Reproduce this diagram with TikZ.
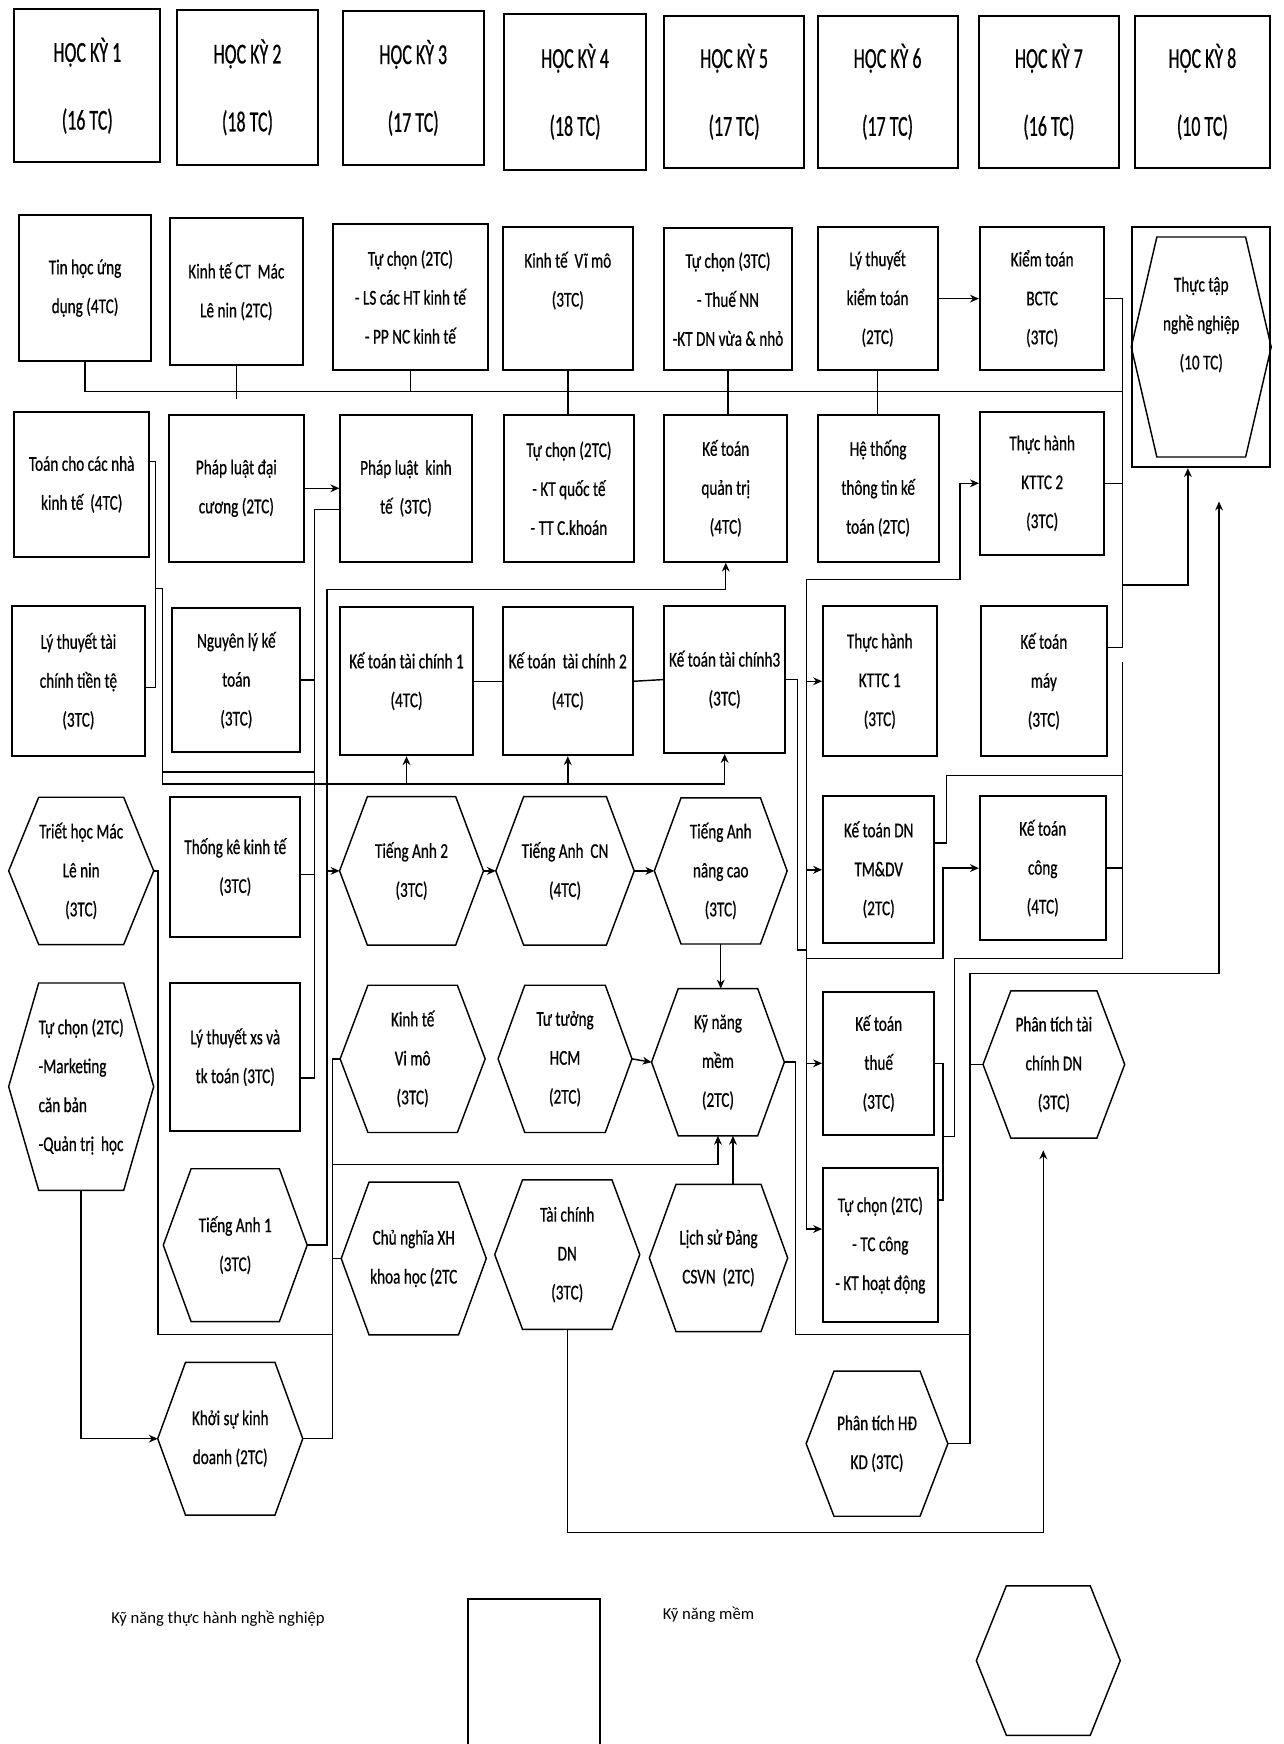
\documentclass[tikz,border=0pt]{standalone}
\usepackage{fontspec}
\setmainfont{Carlito}
\newfontfamily\cfont[FakeStretch=0.72,FakeBold=0.6]{Carlito}
\newfontfamily\hfont[FakeStretch=0.62,FakeBold=0.6]{Carlito}
\newcommand\mybody{\cfont\fontsize{19}{35}\selectfont}
\newcommand\myhdr{\hfont\fontsize{26}{61}\selectfont}
\newcommand\mylegend{\fontsize{15}{18}\selectfont}
\usetikzlibrary{arrows.meta}
\begin{document}
\begin{tikzpicture}[x=1pt,y=-1pt,
  box/.style={draw, line width=1.8pt, inner sep=0pt, align=center, font=\mybody},
  hexn/.style={inner sep=0pt, align=center, font=\mybody},
  hdr/.style={draw, line width=1.8pt, inner sep=0pt, align=center, font=\myhdr},
  conn/.style={line width=1.3pt},
  arr/.style={conn, -{Stealth[length=8pt,width=7pt]}},
  hexline/.style={line width=1.3pt, line join=miter}]
\fill[white] (0,0) rectangle (1154,1568);
\useasboundingbox (0,0) rectangle (1154,1568);

% semester headers
\node[hdr, minimum width=131pt, minimum height=137pt] (hk1) at (78.5,77) {HỌC KỲ 1\\(16 TC)};
\node[hdr, minimum width=127pt, minimum height=139pt] (hk2) at (222.5,78.5) {HỌC KỲ 2\\(18 TC)};
\node[hdr, minimum width=127pt, minimum height=138pt] (hk3) at (371.5,79) {HỌC KỲ 3\\(17 TC)};
\node[hdr, minimum width=128pt, minimum height=140pt] (hk4) at (517,82.5) {HỌC KỲ 4\\(18 TC)};
\node[hdr, minimum width=126pt, minimum height=137pt] (hk5) at (660,82.5) {HỌC KỲ 5\\(17 TC)};
\node[hdr, minimum width=126pt, minimum height=137pt] (hk6) at (798,82.5) {HỌC KỲ 6\\(17 TC)};
\node[hdr, minimum width=126pt, minimum height=137pt] (hk7) at (943,82.5) {HỌC KỲ 7\\(16 TC)};
\node[hdr, minimum width=122pt, minimum height=137pt] (hk8) at (1081,82.5) {HỌC KỲ 8\\(10 TC)};

% row 1
\node[box, minimum width=119pt, minimum height=132pt] (tin) at (76.5,259) {Tin học ứng\\dụng (4TC)};
\node[box, minimum width=119pt, minimum height=132pt] (ktct) at (212.5,262) {Kinh tế CT\ \ Mác\\Lê nin (2TC)};
\node[box, minimum width=140pt, minimum height=132pt] (tc2a) at (369,267) {Tự chọn (2TC)\\- LS các HT kinh tế\\- PP NC kinh tế};
\node[box, minimum width=117pt, minimum height=129pt] (ktvm) at (510.5,268.5) {Kinh tế\ \ Vĩ mô\\(3TC)\\ };
\node[box, minimum width=115pt, minimum height=128pt] (tc3) at (654.5,269) {Tự chọn (3TC)\\- Thuế NN\\-KT DN vừa \& nhỏ};
\node[box, minimum width=108pt, minimum height=129pt] (ltkt) at (789,268.5) {Lý thuyết\\kiểm toán\\(2TC)};
\node[box, minimum width=112pt, minimum height=129pt] (ktbctc) at (937,268.5) {Kiểm toán\\BCTC\\(3TC)};
\node[box, minimum width=124pt, minimum height=216pt] (tt) at (1080,312) {Thực tập\\nghề nghiệp\\(10 TC)\\[8pt]};

% row 2
\node[box, minimum width=121pt, minimum height=131pt] (toan) at (73.5,435.5) {Toán cho các nhà\\kinh tế\ \ (4TC)};
\node[box, minimum width=121pt, minimum height=132pt] (pldc) at (212.5,439) {Pháp luật đại\\cương (2TC)};
\node[box, minimum width=118pt, minimum height=132pt] (plkt) at (365,439) {Pháp luật\ \ kinh\\tế\ \ (3TC)};
\node[box, minimum width=117pt, minimum height=132pt] (tc2b) at (511.5,439) {Tự chọn (2TC)\\- KT quốc tế\\- TT C.khoán};
\node[box, minimum width=111pt, minimum height=132pt] (ktqt) at (652.5,439) {Kế toán\\quản trị\\(4TC)};
\node[box, minimum width=109pt, minimum height=132pt] (httt) at (789.5,439) {Hệ thống\\thông tin kế\\toán (2TC)};
\node[box, minimum width=112pt, minimum height=129pt] (th2) at (937,434.5) {Thực hành\\KTTC 2\\(3TC)};

% row 3
\node[box, minimum width=119pt, minimum height=135pt] (lttc) at (70.5,612.5) {Lý thuyết tài\\chính tiền tệ\\(3TC)};
\node[box, minimum width=115pt, minimum height=129pt] (nlkt) at (212.5,611.5) {Nguyên lý kế\\toán\\(3TC)};
\node[box, minimum width=119pt, minimum height=133pt] (kttc1) at (365.5,612.5) {Kế toán tài chính 1\\(4TC)};
\node[box, minimum width=117pt, minimum height=133pt] (kttc2) at (510.5,612.5) {Kế toán\ \ tài chính 2\\(4TC)};
\node[box, minimum width=109pt, minimum height=132pt] (kttc3) at (651.5,611) {Kế toán tài chính3\\(3TC)};
\node[box, minimum width=102pt, minimum height=135pt] (thkt1) at (791,612.5) {Thực hành\\KTTC 1\\(3TC)};
\node[box, minimum width=113pt, minimum height=135pt] (ktmay) at (938.5,612.5) {Kế toán\\máy\\(3TC)};

% row 4
\node[hexn, minimum width=130pt, minimum height=132pt] (th) at (73,783) {Triết học Mác\\Lê nin\\(3TC)};
\node[box, minimum width=117pt, minimum height=125pt] (tk) at (211.5,779.5) {Thống kê kinh tế\\(3TC)};
\node[hexn, minimum width=129pt, minimum height=133pt] (tea2) at (370,783) {Tiếng Anh 2\\(3TC)};
\node[hexn, minimum width=124pt, minimum height=133pt] (teacn) at (508,783) {Tiếng Anh\ \ CN\\(4TC)};
\node[hexn, minimum width=119pt, minimum height=131pt] (teanc) at (648,783) {Tiếng Anh\\nâng cao\\(3TC)};
\node[box, minimum width=100pt, minimum height=132pt] (ktdn) at (790,782) {Kế toán DN\\TM\&DV\\(2TC)};
\node[box, minimum width=113pt, minimum height=129pt] (ktcong) at (937.5,780.5) {Kế toán\\công\\(4TC)};

% row 5
\node[hexn, minimum width=130pt, minimum height=186pt, align=left] (tcm) at (73,977) {Tự chọn (2TC)\\-Marketing\\căn bản\\-Quản trị\ \ học};
\node[box, minimum width=117pt, minimum height=133pt] (ltxs) at (211.5,950.5) {Lý thuyết xs và\\tk toán (3TC)};
\node[hexn, minimum width=130pt, minimum height=132pt] (ktvi) at (371,952) {Kinh tế\\Vi mô\\(3TC)};
\node[hexn, minimum width=120pt, minimum height=132pt] (hcm) at (508,952) {Tư tưởng\\HCM\\(2TC)};
\node[hexn, minimum width=119pt, minimum height=132pt] (kns) at (645.5,955) {Kỹ năng\\mềm\\(2TC)};
\node[box, minimum width=100pt, minimum height=128pt] (ktthue) at (790,956) {Kế toán\\thuế\\(3TC)};
\node[hexn, minimum width=127pt, minimum height=132pt] (ptdn) at (947.5,957) {Phân tích tài\\chính DN\\(3TC)};

% row 6
\node[hexn, minimum width=129pt, minimum height=137pt] (tea1) at (211.5,1119.5) {Tiếng Anh 1\\(3TC)};
\node[hexn, minimum width=130pt, minimum height=137pt] (cnxh) at (372,1131.5) {Chủ nghĩa XH\\khoa học (2TC};
\node[hexn, minimum width=130pt, minimum height=134pt] (tcdn) at (510,1128) {Tài chính\\DN\\(3TC)};
\node[hexn, minimum width=124pt, minimum height=132pt] (lsd) at (646,1131) {Lịch sử Đảng\\CSVN\ \ (2TC)};
\node[box, minimum width=103pt, minimum height=139pt] (tc2c) at (791.5,1119.5) {Tự chọn (2TC)\\- TC công\\- KT hoạt động};

% row 7
\node[hexn, minimum width=130pt, minimum height=137pt] (ksk) at (207,1293.5) {Khởi sự kinh\\doanh (2TC)};
\node[hexn, minimum width=127pt, minimum height=130pt] (pthd) at (788.5,1298) {Phân tích HĐ\\KD (3TC)};

% legend
\node[font=\mylegend, inner sep=0pt] (lg1) at (196,1455) {Kỹ năng thực hành nghề nghiệp};
\node[draw, line width=1.8pt, minimum width=118pt, minimum height=142pt] (lgrect) at (480,1509) {};
\node[font=\mylegend, inner sep=0pt] (lg2) at (637,1452) {Kỹ năng mềm};
\node[hexn, minimum width=129pt, minimum height=134pt] (lghex) at (942.5,1493) {};

% hexagon outlines
\foreach \n/\i in {th/27, tea2/25, teacn/25, teanc/24, tcm/27, ktvi/25, hcm/24, kns/24, ptdn/25, tea1/25, cnxh/25, tcdn/25, lsd/24, ksk/25, pthd/25, lghex/27}
  \draw[hexline] (\n.west) -- ([xshift=\i pt]\n.north west) -- ([xshift=-\i pt]\n.north east) -- (\n.east) -- ([xshift=-\i pt]\n.south east) -- ([xshift=\i pt]\n.south west) -- cycle;
\draw[hexline] (tt.west) -- ([xshift=23pt,yshift=-10pt]tt.north west) -- ([xshift=-23pt,yshift=-10pt]tt.north east) -- (tt.east) -- ([xshift=-23pt,yshift=10pt]tt.south east) -- ([xshift=23pt,yshift=10pt]tt.south west) -- cycle;

% ---- connectors ----
% top bus
\draw[conn] (tin.south) |- (1009,352);
\draw[conn] (ktct.south) -- ++(0,30);
\draw[conn] (tc2a.south) -- (tc2a.south |- 0,352);
\draw[conn] (ktvm.south) -- (ktvm.south |- tc2b.north);
\draw[conn] (tc3.south) -- (tc3.south |- ktqt.north);
\draw[conn] (ltkt.south) -- (ltkt.south |- httt.north);
\draw[arr] (ltkt.east) -- (ktbctc.west);
\draw[conn] (ktbctc.east) -| (1009,582) -- (ktmay.east |- 0,582);
\draw[conn] (th2.east) -- (th2.east -| 1009,0);
\draw[arr] (1009,526) -| ([xshift=-12pt]tt.south);

% left column trunks
\draw[arr] (pldc.east) -- (plkt.west);
\draw[conn] (toan.east |- 0,415) -| (140,618) -- (lttc.east |- 0,618);
\draw[conn] (140,529) -- (146,529) -- (146,705) -- (kttc3.south |- 0,705);
\foreach \n in {kttc1,kttc2,kttc3} \draw[arr] (\n.south |- 0,705) -- (\n.south);
\draw[conn] (plkt.west |- 0,458) -| (283,969) -- (ltxs.east |- 0,969);
\draw[conn] (nlkt.east) -- (nlkt.east -| 283,0);
\draw[conn] (tk.east |- 0,786) -- (283,786);
\draw[conn] (146,694) -- (283,694);
\draw[arr] (tea1.east) -| (294,530) -| (ktqt.south);
\draw[arr] (tea2.west -| 294,0) -- (tea2.west);
\draw[conn] (th.east) -| (142,1200) -- (299,1200);
\draw[conn] (ktvi.west) -| (299,1293.5) -- (ksk.east);
\draw[conn] (cnxh.west) -- (cnxh.west -| 299,0);
\draw[arr] (299,1047) -| (kns.south);
\draw[arr] (tcm.south) |- (ksk.west);

% english chain
\draw[arr] (tea2.east) -- (teacn.west);
\draw[arr] (teacn.east) -- (teanc.west);
\draw[arr] (teanc.south) -- (teanc.south |- kns.north);
\draw[arr] (hcm.east) -- (kns.west);
\draw[arr] ([xshift=13pt]lsd.north) -- ([xshift=13pt]lsd.north |- kns.south);

% financial accounting chain
\draw[conn] (kttc1.east) -- (kttc2.west);
\draw[conn] (kttc2.east) -- (kttc3.west);
\draw[conn] (kttc3.east) -| (717,854) -- (725,854);
\draw[arr] (725,521) -- (863,521) |- (th2.west);
\draw[conn] (725,521) -- (725,1105);
\draw[arr] (thkt1.west -| 725,0) -- (thkt1.west);
\draw[arr] (ktdn.west -| 725,0) -- (ktdn.west);
\draw[arr] (ktthue.west -| 725,0) -- (ktthue.west);
\draw[arr] (725,1105) -- (tc2c.west |- 0,1105);
\draw[arr] (725,862) -- (848,862) |- (ktcong.west);
\draw[conn] (ktdn.east |- 0,758) -- (851,758) |- (1009,697);
\draw[conn] (1009,595) -- (1009,862) -- (858,862) -- (858,1022) -- (848,1022);
\draw[conn] (ktcong.east) -- (ktcong.east -| 1009,0);
\draw[conn] (ktthue.east) -| (848,1079) -- (tc2c.east |- 0,1079);

% analysis to internship
\draw[conn] (kns.east) -| (715,1200) -- (872,1200);
\draw[arr] (pthd.east) -| (872,875) -| ([xshift=16pt,yshift=-30pt]tt.south);
\draw[conn] (ptdn.west) -- (ptdn.west -| 872,0);
\draw[arr] (tcdn.south) |- (938,1378) -- ([xshift=-9.5pt,yshift=-11pt]ptdn.south);
\end{tikzpicture}
\end{document}
